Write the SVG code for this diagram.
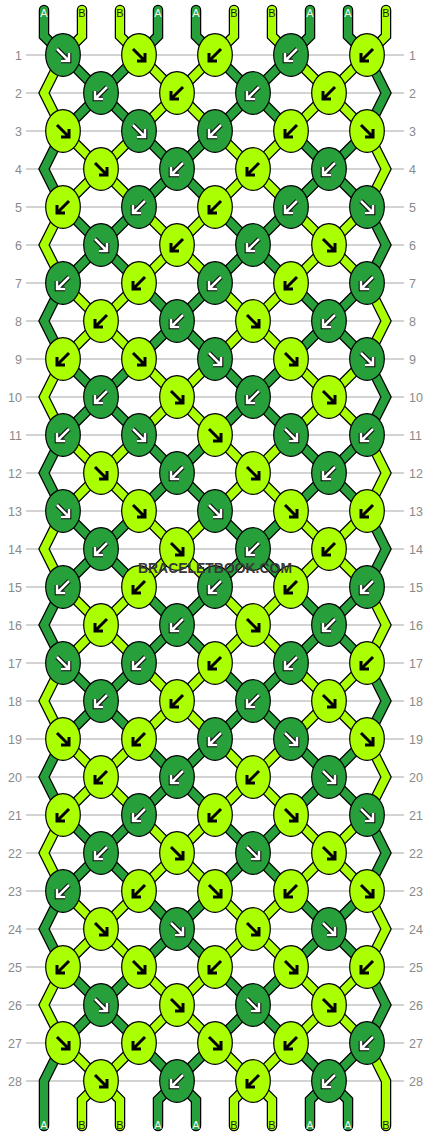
<svg xmlns="http://www.w3.org/2000/svg" xmlns:xlink="http://www.w3.org/1999/xlink" width="430" height="1136" viewBox="0 0 430 1136">
<style>
.grid line{stroke:#c4c4c4;stroke-width:1.5}
.rl{font-family:"Liberation Sans",Arial,sans-serif;font-size:12.5px;fill:#8a8a8a}
.rl .l0{text-anchor:end}
.o{fill:none;stroke:#000;stroke-width:10.5;stroke-linecap:round;stroke-linejoin:miter}
.sa{fill:none;stroke:#27A03B;stroke-width:8;stroke-linecap:round;stroke-linejoin:miter}
.sb{fill:none;stroke:#AAFF00;stroke-width:8;stroke-linecap:round;stroke-linejoin:miter}
.nodes ellipse{stroke:#000;stroke-width:1.2}
.d ellipse{fill:#27A03B}
.l ellipse{fill:#AAFF00}
.lab{font-family:"Liberation Sans",Arial,sans-serif;font-size:11px;text-anchor:middle}
.ta{fill:#f4f4f4}
.tb{fill:#222}
.wm{font-family:"Liberation Sans",Arial,sans-serif;font-size:14px;font-weight:bold;fill:#383838;text-anchor:middle}
</style>
<defs>
<path id="se" d="M-6-6L5 5M6-2V6H-2" fill="none"/>
<path id="sw" d="M6-6L-5 5M-6-2V6H2" fill="none"/>
<g id="seD"><use href="#se" stroke="#000" stroke-width="4.6"/><use href="#se" stroke="#fff" stroke-width="2.6"/></g>
<g id="swD"><use href="#sw" stroke="#000" stroke-width="4.6"/><use href="#sw" stroke="#fff" stroke-width="2.6"/></g>
<g id="seL"><use href="#se" stroke="#000" stroke-width="3"/></g>
<g id="swL"><use href="#sw" stroke="#000" stroke-width="3"/></g>
</defs>
<rect width="430" height="1136" fill="#fff"/>
<g class="grid">
<line x1="26" x2="404" y1="55" y2="55"/><line x1="26" x2="404" y1="93" y2="93"/><line x1="26" x2="404" y1="131" y2="131"/><line x1="26" x2="404" y1="169" y2="169"/><line x1="26" x2="404" y1="207" y2="207"/><line x1="26" x2="404" y1="245" y2="245"/><line x1="26" x2="404" y1="283" y2="283"/><line x1="26" x2="404" y1="321" y2="321"/><line x1="26" x2="404" y1="359" y2="359"/><line x1="26" x2="404" y1="397" y2="397"/><line x1="26" x2="404" y1="435" y2="435"/><line x1="26" x2="404" y1="473" y2="473"/><line x1="26" x2="404" y1="511" y2="511"/><line x1="26" x2="404" y1="549" y2="549"/><line x1="26" x2="404" y1="587" y2="587"/><line x1="26" x2="404" y1="625" y2="625"/><line x1="26" x2="404" y1="663" y2="663"/><line x1="26" x2="404" y1="701" y2="701"/><line x1="26" x2="404" y1="739" y2="739"/><line x1="26" x2="404" y1="777" y2="777"/><line x1="26" x2="404" y1="815" y2="815"/><line x1="26" x2="404" y1="853" y2="853"/><line x1="26" x2="404" y1="891" y2="891"/><line x1="26" x2="404" y1="929" y2="929"/><line x1="26" x2="404" y1="967" y2="967"/><line x1="26" x2="404" y1="1005" y2="1005"/><line x1="26" x2="404" y1="1043" y2="1043"/><line x1="26" x2="404" y1="1081" y2="1081"/>
</g>
<g class="rl">
<text class="l0" x="22" y="59.5">1</text><text class="l0" x="22" y="97.5">2</text><text class="l0" x="22" y="135.5">3</text><text class="l0" x="22" y="173.5">4</text><text class="l0" x="22" y="211.5">5</text><text class="l0" x="22" y="249.5">6</text><text class="l0" x="22" y="287.5">7</text><text class="l0" x="22" y="325.5">8</text><text class="l0" x="22" y="363.5">9</text><text class="l0" x="22" y="401.5">10</text><text class="l0" x="22" y="439.5">11</text><text class="l0" x="22" y="477.5">12</text><text class="l0" x="22" y="515.5">13</text><text class="l0" x="22" y="553.5">14</text><text class="l0" x="22" y="591.5">15</text><text class="l0" x="22" y="629.5">16</text><text class="l0" x="22" y="667.5">17</text><text class="l0" x="22" y="705.5">18</text><text class="l0" x="22" y="743.5">19</text><text class="l0" x="22" y="781.5">20</text><text class="l0" x="22" y="819.5">21</text><text class="l0" x="22" y="857.5">22</text><text class="l0" x="22" y="895.5">23</text><text class="l0" x="22" y="933.5">24</text><text class="l0" x="22" y="971.5">25</text><text class="l0" x="22" y="1009.5">26</text><text class="l0" x="22" y="1047.5">27</text><text class="l0" x="22" y="1085.5">28</text>
<text x="409" y="59.5">1</text><text x="409" y="97.5">2</text><text x="409" y="135.5">3</text><text x="409" y="173.5">4</text><text x="409" y="211.5">5</text><text x="409" y="249.5">6</text><text x="409" y="287.5">7</text><text x="409" y="325.5">8</text><text x="409" y="363.5">9</text><text x="409" y="401.5">10</text><text x="409" y="439.5">11</text><text x="409" y="477.5">12</text><text x="409" y="515.5">13</text><text x="409" y="553.5">14</text><text x="409" y="591.5">15</text><text x="409" y="629.5">16</text><text x="409" y="667.5">17</text><text x="409" y="705.5">18</text><text x="409" y="743.5">19</text><text x="409" y="781.5">20</text><text x="409" y="819.5">21</text><text x="409" y="857.5">22</text><text x="409" y="895.5">23</text><text x="409" y="933.5">24</text><text x="409" y="971.5">25</text><text x="409" y="1009.5">26</text><text x="409" y="1047.5">27</text><text x="409" y="1085.5">28</text>
</g>
<g id="connectors">
<g class="outlines">
<path class="o" d="M44 10V36L367 359L386 397L367 435L63 739L44 777L63 815L348 1100V1126"/>
<path class="o" d="M82 10V36L63 55L44 93L63 131L367 435L386 473L367 511L63 815L44 853L63 891L272 1100V1126"/>
<path class="o" d="M120 10V36L367 283L386 321L367 359L63 663L44 701L63 739L367 1043L386 1081V1126"/>
<path class="o" d="M158 10V36L63 131L44 169L63 207L367 511L386 549L367 587L63 891L44 929L63 967L196 1100V1126"/>
<path class="o" d="M196 10V36L367 207L386 245L367 283L63 587L44 625L63 663L367 967L386 1005L367 1043L310 1100V1126"/>
<path class="o" d="M234 10V36L63 207L44 245L63 283L367 587L386 625L367 663L63 967L44 1005L63 1043L120 1100V1126"/>
<path class="o" d="M272 10V36L367 131L386 169L367 207L63 511L44 549L63 587L367 891L386 929L367 967L234 1100V1126"/>
<path class="o" d="M310 10V36L63 283L44 321L63 359L367 663L386 701L367 739L63 1043L44 1081V1126"/>
<path class="o" d="M348 10V36L367 55L386 93L367 131L63 435L44 473L63 511L367 815L386 853L367 891L158 1100V1126"/>
<path class="o" d="M386 10V36L63 359L44 397L63 435L367 739L386 777L367 815L82 1100V1126"/>
</g>
<path id="string1" class="sa" d="M44 10V36L367 359L386 397L367 435L63 739L44 777L63 815L348 1100V1126"/>
<path id="string2" class="sb" d="M82 10V36L63 55L44 93L63 131L367 435L386 473L367 511L63 815L44 853L63 891L272 1100V1126"/>
<path id="string3" class="sb" d="M120 10V36L367 283L386 321L367 359L63 663L44 701L63 739L367 1043L386 1081V1126"/>
<path id="string4" class="sa" d="M158 10V36L63 131L44 169L63 207L367 511L386 549L367 587L63 891L44 929L63 967L196 1100V1126"/>
<path id="string5" class="sa" d="M196 10V36L367 207L386 245L367 283L63 587L44 625L63 663L367 967L386 1005L367 1043L310 1100V1126"/>
<path id="string6" class="sb" d="M234 10V36L63 207L44 245L63 283L367 587L386 625L367 663L63 967L44 1005L63 1043L120 1100V1126"/>
<path id="string7" class="sb" d="M272 10V36L367 131L386 169L367 207L63 511L44 549L63 587L367 891L386 929L367 967L234 1100V1126"/>
<path id="string8" class="sa" d="M310 10V36L63 283L44 321L63 359L367 663L386 701L367 739L63 1043L44 1081V1126"/>
<path id="string9" class="sa" d="M348 10V36L367 55L386 93L367 131L63 435L44 473L63 511L367 815L386 853L367 891L158 1100V1126"/>
<path id="string10" class="sb" d="M386 10V36L63 359L44 397L63 435L367 739L386 777L367 815L82 1100V1126"/>
</g>
<g class="lab">
<text class="ta" x="44" y="16.5">A</text><text class="tb" x="82" y="16.5">B</text><text class="tb" x="120" y="16.5">B</text><text class="ta" x="158" y="16.5">A</text><text class="ta" x="196" y="16.5">A</text><text class="tb" x="234" y="16.5">B</text><text class="tb" x="272" y="16.5">B</text><text class="ta" x="310" y="16.5">A</text><text class="ta" x="348" y="16.5">A</text><text class="tb" x="386" y="16.5">B</text>
<text class="ta" x="44" y="1129">A</text><text class="tb" x="82" y="1129">B</text><text class="tb" x="120" y="1129">B</text><text class="ta" x="158" y="1129">A</text><text class="ta" x="196" y="1129">A</text><text class="tb" x="234" y="1129">B</text><text class="tb" x="272" y="1129">B</text><text class="ta" x="310" y="1129">A</text><text class="ta" x="348" y="1129">A</text><text class="tb" x="386" y="1129">B</text>
</g>
<g class="nodes">
<g id="n1-1" class="d"><ellipse cx="63" cy="55" rx="17.3" ry="21.3"/><use href="#seD" x="63" y="55"/></g>
<g id="n1-2" class="l"><ellipse cx="139" cy="55" rx="17.3" ry="21.3"/><use href="#seL" x="139" y="55"/></g>
<g id="n1-3" class="l"><ellipse cx="215" cy="55" rx="17.3" ry="21.3"/><use href="#swL" x="215" y="55"/></g>
<g id="n1-4" class="d"><ellipse cx="291" cy="55" rx="17.3" ry="21.3"/><use href="#swD" x="291" y="55"/></g>
<g id="n1-5" class="l"><ellipse cx="367" cy="55" rx="17.3" ry="21.3"/><use href="#swL" x="367" y="55"/></g>
<g id="n2-1" class="d"><ellipse cx="101" cy="93" rx="17.3" ry="21.3"/><use href="#swD" x="101" y="93"/></g>
<g id="n2-2" class="l"><ellipse cx="177" cy="93" rx="17.3" ry="21.3"/><use href="#swL" x="177" y="93"/></g>
<g id="n2-3" class="d"><ellipse cx="253" cy="93" rx="17.3" ry="21.3"/><use href="#swD" x="253" y="93"/></g>
<g id="n2-4" class="l"><ellipse cx="329" cy="93" rx="17.3" ry="21.3"/><use href="#swL" x="329" y="93"/></g>
<g id="n3-1" class="l"><ellipse cx="63" cy="131" rx="17.3" ry="21.3"/><use href="#seL" x="63" y="131"/></g>
<g id="n3-2" class="d"><ellipse cx="139" cy="131" rx="17.3" ry="21.3"/><use href="#seD" x="139" y="131"/></g>
<g id="n3-3" class="d"><ellipse cx="215" cy="131" rx="17.3" ry="21.3"/><use href="#swD" x="215" y="131"/></g>
<g id="n3-4" class="l"><ellipse cx="291" cy="131" rx="17.3" ry="21.3"/><use href="#swL" x="291" y="131"/></g>
<g id="n3-5" class="l"><ellipse cx="367" cy="131" rx="17.3" ry="21.3"/><use href="#seL" x="367" y="131"/></g>
<g id="n4-1" class="l"><ellipse cx="101" cy="169" rx="17.3" ry="21.3"/><use href="#seL" x="101" y="169"/></g>
<g id="n4-2" class="d"><ellipse cx="177" cy="169" rx="17.3" ry="21.3"/><use href="#swD" x="177" y="169"/></g>
<g id="n4-3" class="l"><ellipse cx="253" cy="169" rx="17.3" ry="21.3"/><use href="#swL" x="253" y="169"/></g>
<g id="n4-4" class="d"><ellipse cx="329" cy="169" rx="17.3" ry="21.3"/><use href="#swD" x="329" y="169"/></g>
<g id="n5-1" class="l"><ellipse cx="63" cy="207" rx="17.3" ry="21.3"/><use href="#swL" x="63" y="207"/></g>
<g id="n5-2" class="d"><ellipse cx="139" cy="207" rx="17.3" ry="21.3"/><use href="#swD" x="139" y="207"/></g>
<g id="n5-3" class="l"><ellipse cx="215" cy="207" rx="17.3" ry="21.3"/><use href="#swL" x="215" y="207"/></g>
<g id="n5-4" class="d"><ellipse cx="291" cy="207" rx="17.3" ry="21.3"/><use href="#swD" x="291" y="207"/></g>
<g id="n5-5" class="d"><ellipse cx="367" cy="207" rx="17.3" ry="21.3"/><use href="#seD" x="367" y="207"/></g>
<g id="n6-1" class="d"><ellipse cx="101" cy="245" rx="17.3" ry="21.3"/><use href="#seD" x="101" y="245"/></g>
<g id="n6-2" class="l"><ellipse cx="177" cy="245" rx="17.3" ry="21.3"/><use href="#swL" x="177" y="245"/></g>
<g id="n6-3" class="d"><ellipse cx="253" cy="245" rx="17.3" ry="21.3"/><use href="#swD" x="253" y="245"/></g>
<g id="n6-4" class="l"><ellipse cx="329" cy="245" rx="17.3" ry="21.3"/><use href="#seL" x="329" y="245"/></g>
<g id="n7-1" class="d"><ellipse cx="63" cy="283" rx="17.3" ry="21.3"/><use href="#swD" x="63" y="283"/></g>
<g id="n7-2" class="l"><ellipse cx="139" cy="283" rx="17.3" ry="21.3"/><use href="#swL" x="139" y="283"/></g>
<g id="n7-3" class="d"><ellipse cx="215" cy="283" rx="17.3" ry="21.3"/><use href="#swD" x="215" y="283"/></g>
<g id="n7-4" class="l"><ellipse cx="291" cy="283" rx="17.3" ry="21.3"/><use href="#swL" x="291" y="283"/></g>
<g id="n7-5" class="d"><ellipse cx="367" cy="283" rx="17.3" ry="21.3"/><use href="#swD" x="367" y="283"/></g>
<g id="n8-1" class="l"><ellipse cx="101" cy="321" rx="17.3" ry="21.3"/><use href="#swL" x="101" y="321"/></g>
<g id="n8-2" class="d"><ellipse cx="177" cy="321" rx="17.3" ry="21.3"/><use href="#swD" x="177" y="321"/></g>
<g id="n8-3" class="l"><ellipse cx="253" cy="321" rx="17.3" ry="21.3"/><use href="#seL" x="253" y="321"/></g>
<g id="n8-4" class="d"><ellipse cx="329" cy="321" rx="17.3" ry="21.3"/><use href="#swD" x="329" y="321"/></g>
<g id="n9-1" class="l"><ellipse cx="63" cy="359" rx="17.3" ry="21.3"/><use href="#swL" x="63" y="359"/></g>
<g id="n9-2" class="l"><ellipse cx="139" cy="359" rx="17.3" ry="21.3"/><use href="#seL" x="139" y="359"/></g>
<g id="n9-3" class="d"><ellipse cx="215" cy="359" rx="17.3" ry="21.3"/><use href="#seD" x="215" y="359"/></g>
<g id="n9-4" class="l"><ellipse cx="291" cy="359" rx="17.3" ry="21.3"/><use href="#seL" x="291" y="359"/></g>
<g id="n9-5" class="d"><ellipse cx="367" cy="359" rx="17.3" ry="21.3"/><use href="#seD" x="367" y="359"/></g>
<g id="n10-1" class="d"><ellipse cx="101" cy="397" rx="17.3" ry="21.3"/><use href="#swD" x="101" y="397"/></g>
<g id="n10-2" class="l"><ellipse cx="177" cy="397" rx="17.3" ry="21.3"/><use href="#seL" x="177" y="397"/></g>
<g id="n10-3" class="d"><ellipse cx="253" cy="397" rx="17.3" ry="21.3"/><use href="#swD" x="253" y="397"/></g>
<g id="n10-4" class="l"><ellipse cx="329" cy="397" rx="17.3" ry="21.3"/><use href="#seL" x="329" y="397"/></g>
<g id="n11-1" class="d"><ellipse cx="63" cy="435" rx="17.3" ry="21.3"/><use href="#swD" x="63" y="435"/></g>
<g id="n11-2" class="d"><ellipse cx="139" cy="435" rx="17.3" ry="21.3"/><use href="#seD" x="139" y="435"/></g>
<g id="n11-3" class="l"><ellipse cx="215" cy="435" rx="17.3" ry="21.3"/><use href="#seL" x="215" y="435"/></g>
<g id="n11-4" class="d"><ellipse cx="291" cy="435" rx="17.3" ry="21.3"/><use href="#seD" x="291" y="435"/></g>
<g id="n11-5" class="d"><ellipse cx="367" cy="435" rx="17.3" ry="21.3"/><use href="#swD" x="367" y="435"/></g>
<g id="n12-1" class="l"><ellipse cx="101" cy="473" rx="17.3" ry="21.3"/><use href="#seL" x="101" y="473"/></g>
<g id="n12-2" class="d"><ellipse cx="177" cy="473" rx="17.3" ry="21.3"/><use href="#swD" x="177" y="473"/></g>
<g id="n12-3" class="l"><ellipse cx="253" cy="473" rx="17.3" ry="21.3"/><use href="#seL" x="253" y="473"/></g>
<g id="n12-4" class="d"><ellipse cx="329" cy="473" rx="17.3" ry="21.3"/><use href="#swD" x="329" y="473"/></g>
<g id="n13-1" class="d"><ellipse cx="63" cy="511" rx="17.3" ry="21.3"/><use href="#seD" x="63" y="511"/></g>
<g id="n13-2" class="l"><ellipse cx="139" cy="511" rx="17.3" ry="21.3"/><use href="#seL" x="139" y="511"/></g>
<g id="n13-3" class="d"><ellipse cx="215" cy="511" rx="17.3" ry="21.3"/><use href="#seD" x="215" y="511"/></g>
<g id="n13-4" class="l"><ellipse cx="291" cy="511" rx="17.3" ry="21.3"/><use href="#seL" x="291" y="511"/></g>
<g id="n13-5" class="l"><ellipse cx="367" cy="511" rx="17.3" ry="21.3"/><use href="#swL" x="367" y="511"/></g>
<g id="n14-1" class="d"><ellipse cx="101" cy="549" rx="17.3" ry="21.3"/><use href="#swD" x="101" y="549"/></g>
<g id="n14-2" class="l"><ellipse cx="177" cy="549" rx="17.3" ry="21.3"/><use href="#seL" x="177" y="549"/></g>
<g id="n14-3" class="d"><ellipse cx="253" cy="549" rx="17.3" ry="21.3"/><use href="#swD" x="253" y="549"/></g>
<g id="n14-4" class="l"><ellipse cx="329" cy="549" rx="17.3" ry="21.3"/><use href="#swL" x="329" y="549"/></g>
<g id="n15-1" class="d"><ellipse cx="63" cy="587" rx="17.3" ry="21.3"/><use href="#swD" x="63" y="587"/></g>
<g id="n15-2" class="l"><ellipse cx="139" cy="587" rx="17.3" ry="21.3"/><use href="#swL" x="139" y="587"/></g>
<g id="n15-3" class="d"><ellipse cx="215" cy="587" rx="17.3" ry="21.3"/><use href="#swD" x="215" y="587"/></g>
<g id="n15-4" class="l"><ellipse cx="291" cy="587" rx="17.3" ry="21.3"/><use href="#swL" x="291" y="587"/></g>
<g id="n15-5" class="d"><ellipse cx="367" cy="587" rx="17.3" ry="21.3"/><use href="#swD" x="367" y="587"/></g>
<g id="n16-1" class="l"><ellipse cx="101" cy="625" rx="17.3" ry="21.3"/><use href="#swL" x="101" y="625"/></g>
<g id="n16-2" class="d"><ellipse cx="177" cy="625" rx="17.3" ry="21.3"/><use href="#swD" x="177" y="625"/></g>
<g id="n16-3" class="l"><ellipse cx="253" cy="625" rx="17.3" ry="21.3"/><use href="#seL" x="253" y="625"/></g>
<g id="n16-4" class="d"><ellipse cx="329" cy="625" rx="17.3" ry="21.3"/><use href="#swD" x="329" y="625"/></g>
<g id="n17-1" class="d"><ellipse cx="63" cy="663" rx="17.3" ry="21.3"/><use href="#seD" x="63" y="663"/></g>
<g id="n17-2" class="d"><ellipse cx="139" cy="663" rx="17.3" ry="21.3"/><use href="#swD" x="139" y="663"/></g>
<g id="n17-3" class="l"><ellipse cx="215" cy="663" rx="17.3" ry="21.3"/><use href="#swL" x="215" y="663"/></g>
<g id="n17-4" class="d"><ellipse cx="291" cy="663" rx="17.3" ry="21.3"/><use href="#swD" x="291" y="663"/></g>
<g id="n17-5" class="l"><ellipse cx="367" cy="663" rx="17.3" ry="21.3"/><use href="#swL" x="367" y="663"/></g>
<g id="n18-1" class="d"><ellipse cx="101" cy="701" rx="17.3" ry="21.3"/><use href="#swD" x="101" y="701"/></g>
<g id="n18-2" class="l"><ellipse cx="177" cy="701" rx="17.3" ry="21.3"/><use href="#swL" x="177" y="701"/></g>
<g id="n18-3" class="d"><ellipse cx="253" cy="701" rx="17.3" ry="21.3"/><use href="#swD" x="253" y="701"/></g>
<g id="n18-4" class="l"><ellipse cx="329" cy="701" rx="17.3" ry="21.3"/><use href="#seL" x="329" y="701"/></g>
<g id="n19-1" class="l"><ellipse cx="63" cy="739" rx="17.3" ry="21.3"/><use href="#seL" x="63" y="739"/></g>
<g id="n19-2" class="l"><ellipse cx="139" cy="739" rx="17.3" ry="21.3"/><use href="#swL" x="139" y="739"/></g>
<g id="n19-3" class="d"><ellipse cx="215" cy="739" rx="17.3" ry="21.3"/><use href="#swD" x="215" y="739"/></g>
<g id="n19-4" class="d"><ellipse cx="291" cy="739" rx="17.3" ry="21.3"/><use href="#seD" x="291" y="739"/></g>
<g id="n19-5" class="l"><ellipse cx="367" cy="739" rx="17.3" ry="21.3"/><use href="#seL" x="367" y="739"/></g>
<g id="n20-1" class="l"><ellipse cx="101" cy="777" rx="17.3" ry="21.3"/><use href="#swL" x="101" y="777"/></g>
<g id="n20-2" class="d"><ellipse cx="177" cy="777" rx="17.3" ry="21.3"/><use href="#swD" x="177" y="777"/></g>
<g id="n20-3" class="l"><ellipse cx="253" cy="777" rx="17.3" ry="21.3"/><use href="#swL" x="253" y="777"/></g>
<g id="n20-4" class="d"><ellipse cx="329" cy="777" rx="17.3" ry="21.3"/><use href="#seD" x="329" y="777"/></g>
<g id="n21-1" class="l"><ellipse cx="63" cy="815" rx="17.3" ry="21.3"/><use href="#swL" x="63" y="815"/></g>
<g id="n21-2" class="d"><ellipse cx="139" cy="815" rx="17.3" ry="21.3"/><use href="#swD" x="139" y="815"/></g>
<g id="n21-3" class="l"><ellipse cx="215" cy="815" rx="17.3" ry="21.3"/><use href="#swL" x="215" y="815"/></g>
<g id="n21-4" class="l"><ellipse cx="291" cy="815" rx="17.3" ry="21.3"/><use href="#seL" x="291" y="815"/></g>
<g id="n21-5" class="d"><ellipse cx="367" cy="815" rx="17.3" ry="21.3"/><use href="#seD" x="367" y="815"/></g>
<g id="n22-1" class="d"><ellipse cx="101" cy="853" rx="17.3" ry="21.3"/><use href="#swD" x="101" y="853"/></g>
<g id="n22-2" class="l"><ellipse cx="177" cy="853" rx="17.3" ry="21.3"/><use href="#seL" x="177" y="853"/></g>
<g id="n22-3" class="d"><ellipse cx="253" cy="853" rx="17.3" ry="21.3"/><use href="#seD" x="253" y="853"/></g>
<g id="n22-4" class="l"><ellipse cx="329" cy="853" rx="17.3" ry="21.3"/><use href="#seL" x="329" y="853"/></g>
<g id="n23-1" class="d"><ellipse cx="63" cy="891" rx="17.3" ry="21.3"/><use href="#swD" x="63" y="891"/></g>
<g id="n23-2" class="l"><ellipse cx="139" cy="891" rx="17.3" ry="21.3"/><use href="#swL" x="139" y="891"/></g>
<g id="n23-3" class="l"><ellipse cx="215" cy="891" rx="17.3" ry="21.3"/><use href="#seL" x="215" y="891"/></g>
<g id="n23-4" class="l"><ellipse cx="291" cy="891" rx="17.3" ry="21.3"/><use href="#swL" x="291" y="891"/></g>
<g id="n23-5" class="l"><ellipse cx="367" cy="891" rx="17.3" ry="21.3"/><use href="#seL" x="367" y="891"/></g>
<g id="n24-1" class="l"><ellipse cx="101" cy="929" rx="17.3" ry="21.3"/><use href="#seL" x="101" y="929"/></g>
<g id="n24-2" class="d"><ellipse cx="177" cy="929" rx="17.3" ry="21.3"/><use href="#seD" x="177" y="929"/></g>
<g id="n24-3" class="l"><ellipse cx="253" cy="929" rx="17.3" ry="21.3"/><use href="#seL" x="253" y="929"/></g>
<g id="n24-4" class="d"><ellipse cx="329" cy="929" rx="17.3" ry="21.3"/><use href="#seD" x="329" y="929"/></g>
<g id="n25-1" class="l"><ellipse cx="63" cy="967" rx="17.3" ry="21.3"/><use href="#swL" x="63" y="967"/></g>
<g id="n25-2" class="l"><ellipse cx="139" cy="967" rx="17.3" ry="21.3"/><use href="#seL" x="139" y="967"/></g>
<g id="n25-3" class="l"><ellipse cx="215" cy="967" rx="17.3" ry="21.3"/><use href="#swL" x="215" y="967"/></g>
<g id="n25-4" class="l"><ellipse cx="291" cy="967" rx="17.3" ry="21.3"/><use href="#seL" x="291" y="967"/></g>
<g id="n25-5" class="l"><ellipse cx="367" cy="967" rx="17.3" ry="21.3"/><use href="#swL" x="367" y="967"/></g>
<g id="n26-1" class="d"><ellipse cx="101" cy="1005" rx="17.3" ry="21.3"/><use href="#seD" x="101" y="1005"/></g>
<g id="n26-2" class="l"><ellipse cx="177" cy="1005" rx="17.3" ry="21.3"/><use href="#seL" x="177" y="1005"/></g>
<g id="n26-3" class="d"><ellipse cx="253" cy="1005" rx="17.3" ry="21.3"/><use href="#seD" x="253" y="1005"/></g>
<g id="n26-4" class="l"><ellipse cx="329" cy="1005" rx="17.3" ry="21.3"/><use href="#seL" x="329" y="1005"/></g>
<g id="n27-1" class="l"><ellipse cx="63" cy="1043" rx="17.3" ry="21.3"/><use href="#seL" x="63" y="1043"/></g>
<g id="n27-2" class="l"><ellipse cx="139" cy="1043" rx="17.3" ry="21.3"/><use href="#swL" x="139" y="1043"/></g>
<g id="n27-3" class="l"><ellipse cx="215" cy="1043" rx="17.3" ry="21.3"/><use href="#seL" x="215" y="1043"/></g>
<g id="n27-4" class="l"><ellipse cx="291" cy="1043" rx="17.3" ry="21.3"/><use href="#swL" x="291" y="1043"/></g>
<g id="n27-5" class="d"><ellipse cx="367" cy="1043" rx="17.3" ry="21.3"/><use href="#swD" x="367" y="1043"/></g>
<g id="n28-1" class="l"><ellipse cx="101" cy="1081" rx="17.3" ry="21.3"/><use href="#seL" x="101" y="1081"/></g>
<g id="n28-2" class="d"><ellipse cx="177" cy="1081" rx="17.3" ry="21.3"/><use href="#swD" x="177" y="1081"/></g>
<g id="n28-3" class="l"><ellipse cx="253" cy="1081" rx="17.3" ry="21.3"/><use href="#swL" x="253" y="1081"/></g>
<g id="n28-4" class="d"><ellipse cx="329" cy="1081" rx="17.3" ry="21.3"/><use href="#swD" x="329" y="1081"/></g>
</g>
<text class="wm" x="215" y="573" textLength="154" lengthAdjust="spacingAndGlyphs">BRACELETBOOK.COM</text>
</svg>
